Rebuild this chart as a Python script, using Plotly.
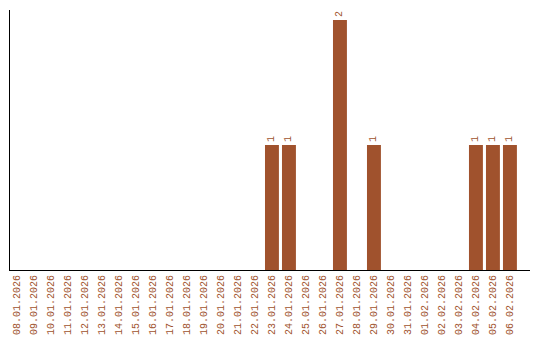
import plotly.graph_objects as go

dates = ["08.01.2026", "09.01.2026", "10.01.2026", "11.01.2026", "12.01.2026",
         "13.01.2026", "14.01.2026", "15.01.2026", "16.01.2026", "17.01.2026",
         "18.01.2026", "19.01.2026", "20.01.2026", "21.01.2026", "22.01.2026",
         "23.01.2026", "24.01.2026", "25.01.2026", "26.01.2026", "27.01.2026",
         "28.01.2026", "29.01.2026", "30.01.2026", "31.01.2026", "01.02.2026",
         "02.02.2026", "03.02.2026", "04.02.2026", "05.02.2026", "06.02.2026"]
counts = [0, 0, 0, 0, 0, 0, 0, 0, 0, 0, 0, 0, 0, 0, 0,
          1, 1, 0, 0, 2, 0, 1, 0, 0, 0, 0, 0, 1, 1, 1]

color = "#A0522D"
labels = [str(v) if v > 0 else "" for v in counts]
font_family = "Liberation Mono"

fig = go.Figure(go.Bar(
    x=list(range(len(dates))), y=counts, marker_color=color, marker_line_width=0,
    text=labels, textposition="outside", textangle=-90, constraintext="none",
    cliponaxis=False, textfont=dict(family=font_family, size=10, color=color),
    width=0.82, hoverinfo="skip",
))
fig.update_layout(
    width=540, height=340, margin=dict(l=10, r=10, t=10, b=70),
    plot_bgcolor="white", paper_bgcolor="white", showlegend=False,
    font=dict(family=font_family, size=10, color=color),
)
fig.update_xaxes(
    tickmode="array", tickvals=list(range(len(dates))), ticktext=dates,
    tickangle=-90, range=[-0.41, 30.18], showline=True, linecolor="black",
    linewidth=1, showgrid=False, zeroline=False, ticks="", automargin=False,
    tickfont=dict(family=font_family, size=10, color=color),
)
fig.update_yaxes(
    range=[0, 2.08], showline=True, linecolor="black", linewidth=1,
    showgrid=False, zeroline=False, showticklabels=False, ticks="",
    automargin=False,
)
fig.write_html("out.html")
